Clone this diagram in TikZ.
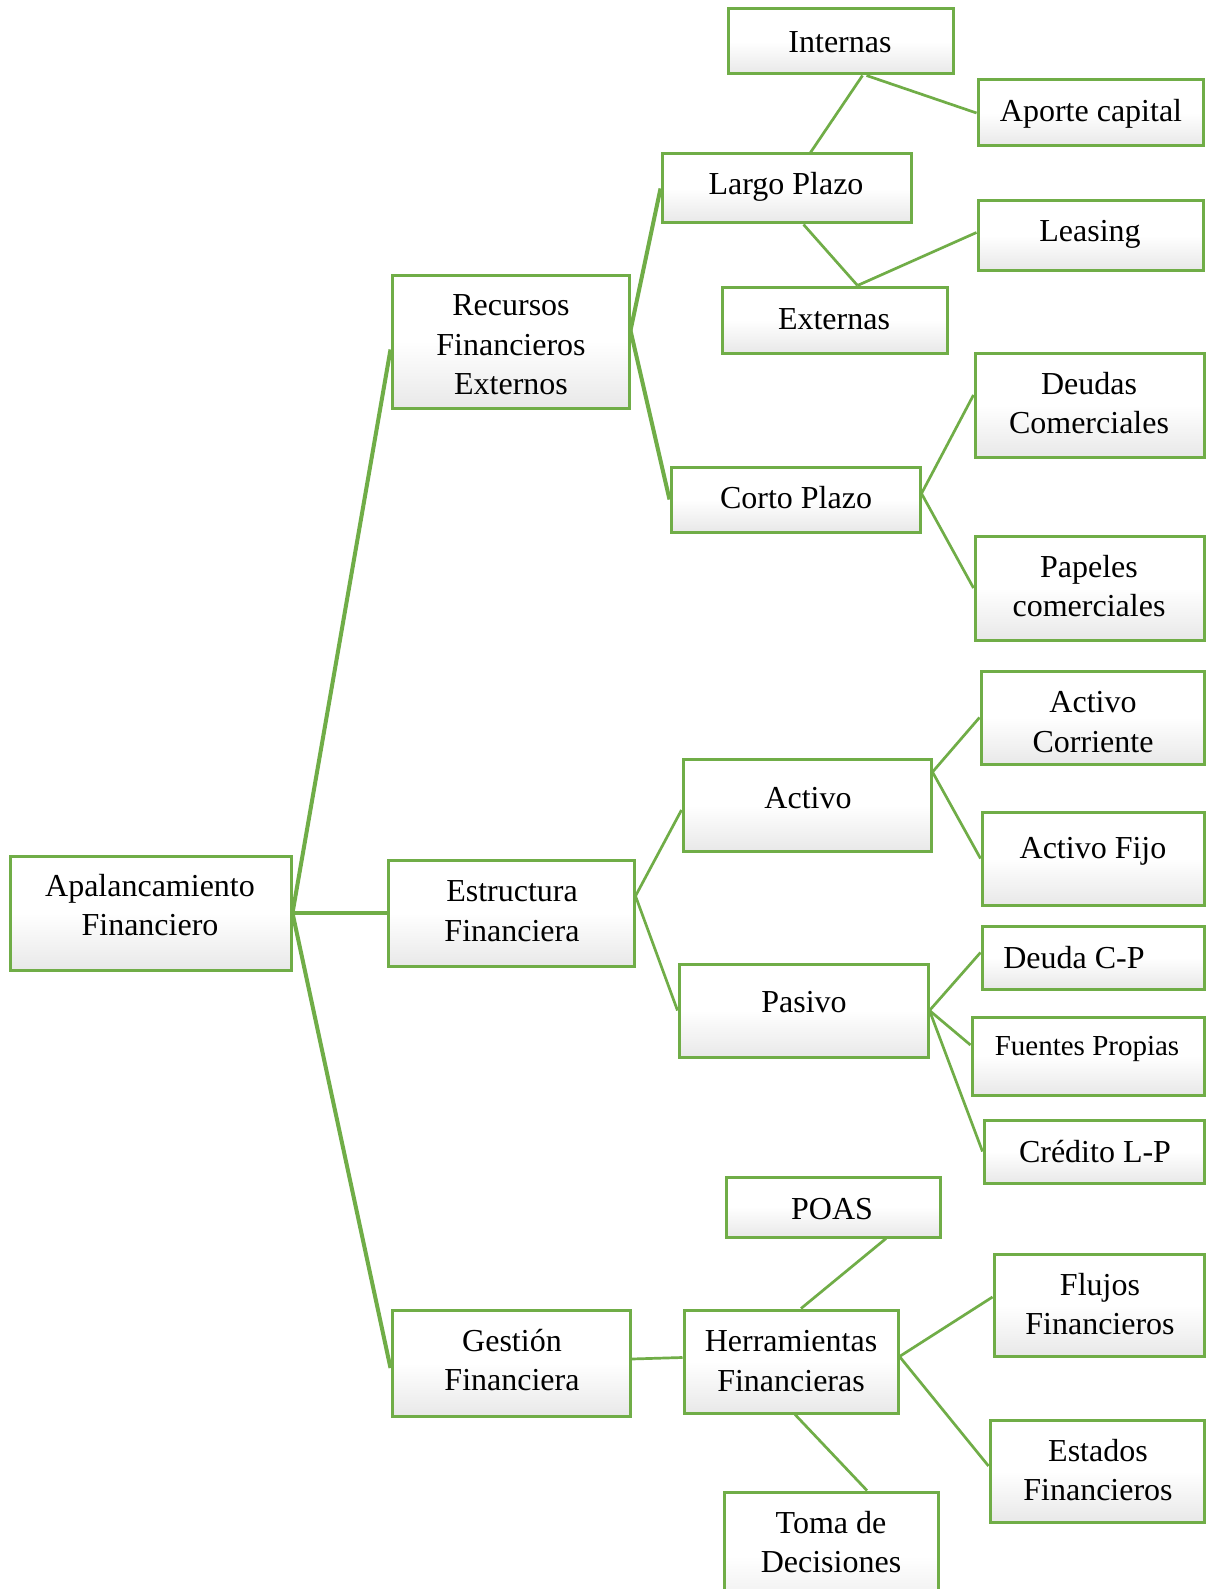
\documentclass[tikz,border=0pt]{standalone}
\usepackage{fontspec}
\setmainfont{Liberation Serif}
\usetikzlibrary{fit,calc}
\definecolor{leaf}{HTML}{70AD47}
% soft grey-to-white fill used by every box (0bp is the bottom edge)
\pgfdeclareverticalshading{boxfade}{100bp}{color(0bp)=(black!22); color(22bp)=(black!10); color(50bp)=(white); color(100bp)=(white)}
\tikzset{
  box/.style={draw=leaf, line width=3pt, shade, shading=boxfade, inner sep=0pt, rectangle},
  txt/.style={font=\fontsize{32}{39.5}\selectfont, align=center, inner sep=0pt},
  smalltxt/.style={txt, font=\fontsize{29}{36}\selectfont},
  link/.style={draw=leaf, line width=2.7pt},
  trunk/.style={draw=leaf, line width=4pt},
}
% \panel[text style]{name}{top-left}{bottom-right}{text centre}{text}
\newcommand\panel[6][txt]{%
  \node[box, fit={(#3)(#4)}] (#2) {};
  \node[#1] (#2-t) at (#5) {#6};}
\begin{document}
\begin{tikzpicture}[x=1pt, y=-1pt]
\useasboundingbox[fill=white] (0,0) rectangle (1205,1589);

% root
\panel{apal}{10,856}{291,970}{150,905}{Apalancamiento\\Financiero}

% first level
\panel{rec}{392,275}{629,408}{511,345}{Recursos\\Financieros\\Externos}
\panel{estr}{388,860}{634,966}{512,911}{Estructura\\Financiera}
\panel{gest}{392,1310}{630,1416}{512,1360}{Gestión\\Financiera}

% resources branch
\panel{int}{728,9}{953,74}{840,42}{Internas}
\panel{apor}{978,80}{1203,146}{1091,114}{Aporte capital}
\panel{largo}{662,154}{911,223}{786,187}{Largo Plazo}
\panel{leas}{978,201}{1203,270}{1090,234}{Leasing}
\panel{ext}{722,287}{947,353}{834,319}{Externas}
\panel{deud}{975,353}{1204,457}{1089,403}{Deudas\\Comerciales}
\panel{corto}{671,467}{920,532}{796,498}{Corto Plazo}
\panel{pap}{975,536}{1204,640}{1089,586}{Papeles\\comerciales}

% structure branch
\panel{acorr}{981,671}{1204,764}{1093,722}{Activo\\Corriente}
\panel{act}{683,759}{931,851}{808,798}{Activo}
\panel{afijo}{982,812}{1204,905}{1093,851}{Activo Fijo}
\panel{dcp}{982,926}{1204,989}{1074,958}{Deuda C-P}
\panel[smalltxt]{fprop}{972,1017}{1204,1095}{1087,1049}{Fuentes Propias}
\panel{cred}{984,1120}{1204,1183}{1095,1152}{Crédito L-P}
\panel{pas}{679,964}{928,1057}{804,1002}{Pasivo}

% management branch
\panel{poas}{726,1177}{940,1237}{832,1209}{POAS}
\panel{herr}{684,1310}{898,1413}{791,1361}{Herramientas\\Financieras}
\panel{fluj}{994,1254}{1204,1356}{1100,1304}{Flujos\\Financieros}
\panel{est}{990,1420}{1204,1522}{1098,1470}{Estados\\Financieros}
\panel{toma}{724,1492}{938,1620}{831,1542}{Toma de\\Decisiones}

% trunk connectors
\draw[trunk] (apal.east) -- ([yshift=-8pt]rec.west);
\draw[trunk] (apal.east) -- (estr.west);
\draw[trunk] (apal.east) -- ([yshift=-5pt]gest.west);
\draw[trunk] ([yshift=11pt]rec.east) -- (largo.west);
\draw[trunk] ([yshift=11pt]rec.east) -- (corto.west);

% long-term sources
\draw[link] ([xshift=24pt]largo.north) -- ([xshift=22pt]int.south);
\draw[link] ([xshift=26pt]int.south) -- (apor.west);
\draw[link] ([xshift=17pt]largo.south) -- ([xshift=23pt]ext.north);
\draw[link] ([xshift=23pt]ext.north) -- ([yshift=3pt]leas.west);

% short-term sources
\draw[link] ([yshift=6pt]corto.east) -- ([yshift=10pt]deud.west);
\draw[link] ([yshift=6pt]corto.east) -- (pap.west);

% structure
\draw[link] ([yshift=17pt]estr.east) -- ([yshift=-5pt]act.west);
\draw[link] ([yshift=17pt]estr.east) -- (pas.west);
\draw[link] ([yshift=33pt]act.east) -- (acorr.west);
\draw[link] ([yshift=33pt]act.east) -- (afijo.west);
\draw[link] (pas.east) -- ([yshift=5pt]dcp.west);
\draw[link] (pas.east) -- ([yshift=11pt]fprop.west);
\draw[link] (pas.east) -- (cred.west);

% management tools
\draw[link] ([yshift=4pt]gest.east) -- ([yshift=4pt]herr.west);
\draw[link] ([xshift=10pt]herr.north) -- ([xshift=53pt]poas.south);
\draw[link] ([yshift=5pt]herr.east) -- ([yshift=8pt]fluj.west);
\draw[link] ([yshift=5pt]herr.east) -- ([yshift=5pt]est.west);
\draw[link] ([xshift=4pt]herr.south) -- ([xshift=36pt]toma.north);
\end{tikzpicture}
\end{document}
